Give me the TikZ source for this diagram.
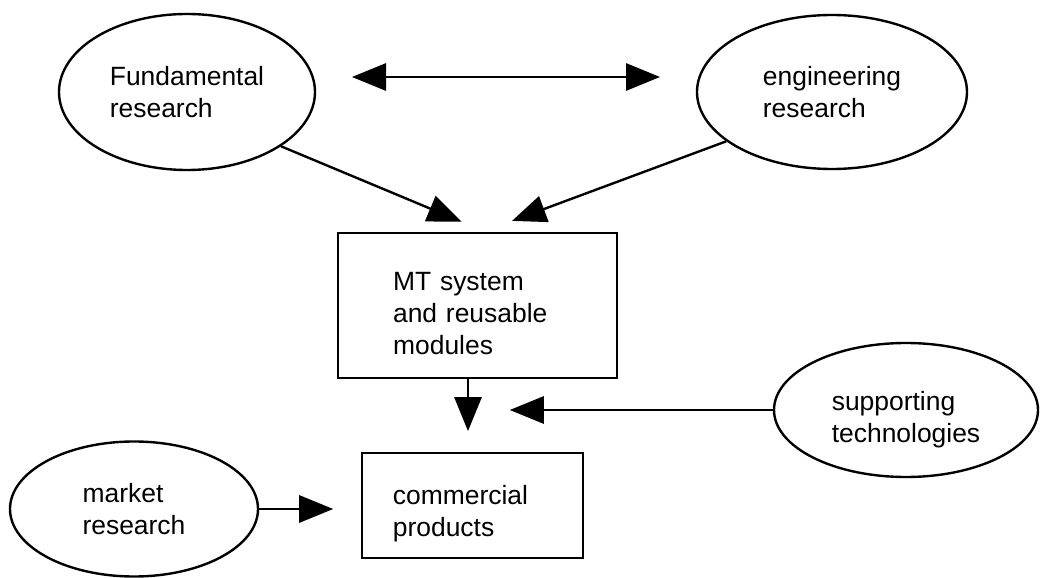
\documentclass[tikz,border=0pt]{standalone}
\usepackage{fontspec}
\setmainfont{Liberation Sans}
\usepackage{tikz}
\usetikzlibrary{arrows.meta,calc,positioning,shapes.geometric}

\begin{document}
\begin{tikzpicture}[scale=1,
    every node/.style={font=\fontsize{18.8pt}{22.8pt}\selectfont, align=left},
    oval/.style={draw, ellipse, line width=1.7pt, inner sep=0pt},
    box/.style={draw, rectangle, line width=1.7pt, inner ysep=0pt},
    arr/.style={-{Triangle[length=0.85cm,width=0.68cm]}, line width=1.7pt}]
  \useasboundingbox (0,0) rectangle (26,14.425);
  % research ellipses
  \node[oval, minimum width=6.4cm, minimum height=3.9cm] (fund) at (4.675,12.125) {Fundamental\\research};
  \node[oval, minimum width=6.75cm, minimum height=3.85cm] (eng) at (20.8,12.125) {engineering\\research};
  \coordinate (dl) at (8.8,12.5);
  \coordinate (dr) at (16.5,12.5);
  \draw[arr, {Triangle[length=0.85cm,width=0.68cm]}-{Triangle[length=0.85cm,width=0.68cm]}] (dl)--(dr);
  % MT system box
  \node[box, inner xsep=1.375cm, text width=4.225cm, minimum height=3.625cm] (mt) at (11.94,6.79) {\rule{0pt}{24pt}MT system\\and reusable\\modules};
  \draw[arr] (fund.-30)--([xshift=-0.4cm,yshift=0.25cm]mt.north);
  \draw[arr] (eng.-155)--([xshift=0.86cm,yshift=0.27cm]mt.north);
  % products box
  \node[box, inner xsep=0.775cm, text width=3.975cm, minimum height=2.625cm] (prod) at (11.81,1.79) {\rule{0pt}{25pt}commercial\\products};
  \draw[arr] ([xshift=-0.24cm]mt.south)--++(0,-1.3);
  % supporting technologies and market research
  \node[oval, minimum width=6.6cm, minimum height=3.35cm] (supp) at (22.65,4.175) {\rule{0pt}{27pt}supporting\\technologies};
  \node[oval, minimum width=6.2cm, minimum height=3.375cm] (mkt) at (3.35,1.7) {market\\research};
  \draw[arr] (supp.west)--++(-6.575,0);
  \draw[arr] (mkt.east)--++(1.85,0);
\end{tikzpicture}
\end{document}
